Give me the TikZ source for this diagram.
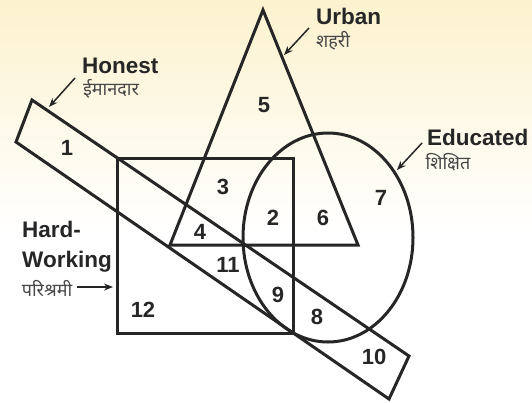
\documentclass[tikz,border=0pt]{standalone}
\usepackage{fontspec}
\setmainfont{Liberation Sans}
\newfontfamily\deva[Script=Devanagari]{Noto Sans}
\usetikzlibrary{arrows.meta}
\definecolor{bgtop}{RGB}{252,242,206}
\definecolor{ink}{RGB}{38,38,38}
\begin{document}
\begin{tikzpicture}[x=1pt,y=-1pt,
  shape line/.style={draw=ink,line width=3pt,line join=miter},
  lab/.style={font=\fontsize{22.5}{22.5}\selectfont\bfseries,text=ink,inner sep=0pt,anchor=base west},
  hin/.style={font=\deva\fontsize{18}{18}\selectfont,text=ink!85,inner sep=0pt},
  num/.style={font=\fontsize{22}{22}\selectfont\bfseries,text=ink,inner sep=0pt},
  pointer/.style={draw=ink,line width=1.5pt,-{Stealth[length=9pt,width=7pt]}}]
\useasboundingbox (0,0) rectangle (532,402);
\shade[top color=bgtop,bottom color=white] (0,0) rectangle (532,230);
\fill[white] (0,230) rectangle (532,402);
% shapes
\draw[shape line] (263,10) -- (358,245) -- (170,245) -- cycle;
\draw[shape line] (117,158) rectangle (293,333);
\draw[shape line] (328,237.5) ellipse [x radius=85, y radius=104.5];
\draw[shape line] (32,100) -- (409,356) -- (389,399) -- (16,142) -- cycle;
% labels
\node[lab] (honest) at (82,73) {Honest};
\node[hin] (honesth) at (111,89) {ईमानदार};
\node[lab] (urban) at (316,24) {Urban};
\node[hin] (urbanh) at (333,41) {शहरी};
\node[lab] (educ) at (427,145) {Educated};
\node[hin] (educh) at (448,162) {शिक्षित};
\node[lab] (hard) at (22,237) {Hard-};
\node[lab] (work) at (22,267) {Working};
\node[hin] (hardh) at (47,289) {परिश्रमी};
% pointer coordinates
\coordinate (hs) at (75,78); \coordinate (he) at (49,107);
\coordinate (us) at (309,28); \coordinate (ue) at (284,55);
\coordinate (es) at (422,143); \coordinate (ee) at (397,170);
\coordinate (ws) at (77,287); \coordinate (we) at (113,287);
\draw[pointer] (hs) -- (he);
\draw[pointer] (us) -- (ue);
\draw[pointer] (es) -- (ee);
\draw[pointer] (ws) -- (we);
% numbers
\node[num] (n1) at (67,148) {1};
\node[num] (n2) at (273,218) {2};
\node[num] (n3) at (223,187) {3};
\node[num] (n4) at (200,232) {4};
\node[num] (n5) at (264,105) {5};
\node[num] (n6) at (323,218) {6};
\node[num] (n7) at (381,198) {7};
\node[num] (n8) at (317,317) {8};
\node[num] (n9) at (278,295) {9};
\node[num] (n10) at (374,357) {10};
\node[num] (n11) at (228,265) {11};
\node[num] (n12) at (143,310) {12};
\end{tikzpicture}
\end{document}
